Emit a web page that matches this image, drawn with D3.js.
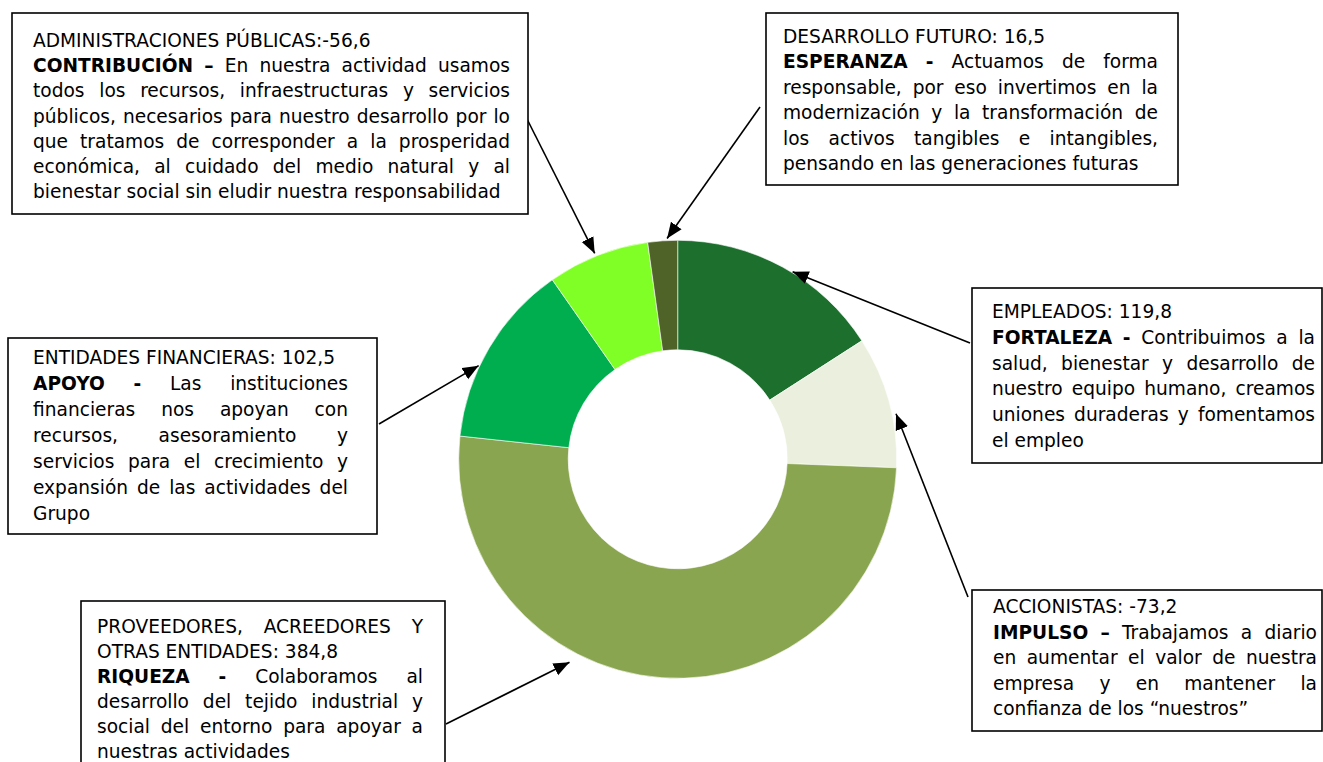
<!DOCTYPE html>
<html>
<head>
<meta charset="utf-8">
<script src="https://cdn.jsdelivr.net/npm/d3@7"></script>
<style>
  html, body { margin: 0; padding: 0; background: #fff; }
  svg { display: block; }
  text { font-family: "DejaVu Sans", Verdana, sans-serif; }
</style>
</head>
<body>
<svg id="chart" width="1323" height="762"></svg>
<script>
// slices, clockwise from 12 o'clock
var names = [
    ["EMPLEADOS"],
    ["ACCIONISTAS"],
    ["PROVEEDORES, ACREEDORES Y", "OTRAS ENTIDADES"],
    ["ENTIDADES FINANCIERAS"],
    ["ADMINISTRACIONES PÚBLICAS"],
    ["DESARROLLO FUTURO"]
];
var separators = [": ", ": ", ": ", ": ", ":", ": "];
var values = [119.8, -73.2, 384.8, 102.5, -56.6, 16.5];
var colors = ["#1d6f2e", "#ebf0de", "#89a54f", "#00ae4f", "#80ff26", "#4f6228"];

// texts of the call-out boxes, already broken in lines; **...** is bold
var bodies = [
    ["**FORTALEZA -** Contribuimos a la",
     "salud, bienestar y desarrollo de",
     "nuestro equipo humano, creamos",
     "uniones duraderas y fomentamos",
     "el empleo"],
    ["**IMPULSO –** Trabajamos a diario",
     "en aumentar el valor de nuestra",
     "empresa y en mantener la",
     "confianza de los “nuestros”"],
    ["**RIQUEZA** **-** Colaboramos al",
     "desarrollo del tejido industrial y",
     "social del entorno para apoyar a",
     "nuestras actividades"],
    ["**APOYO** **-** Las instituciones",
     "financieras nos apoyan con",
     "recursos, asesoramiento y",
     "servicios para el crecimiento y",
     "expansión de las actividades del",
     "Grupo"],
    ["**CONTRIBUCIÓN –** En nuestra actividad usamos",
     "todos los recursos, infraestructuras y servicios",
     "públicos, necesarios para nuestro desarrollo por lo",
     "que tratamos de corresponder a la prosperidad",
     "económica, al cuidado del medio natural y al",
     "bienestar social sin eludir nuestra responsabilidad"],
    ["**ESPERANZA -** Actuamos de forma",
     "responsable, por eso invertimos en la",
     "modernización y la transformación de",
     "los activos tangibles e intangibles,",
     "pensando en las generaciones futuras"]
];

// layout of the boxes (x, y, w, h, text left, text width, first baseline, line step)
var boxes = [
    {x: 972, y: 288, w: 350, h: 175, tx: 992, tw: 323, by: 318, step: 25.8},
    {x: 972, y: 590, w: 350, h: 141, tx: 993, tw: 324, by: 613, step: 25.6},
    {x: 81,  y: 601, w: 364, h: 180, tx: 97,  tw: 326, by: 633, step: 25.0},
    {x: 8,   y: 338, w: 369, h: 196, tx: 33,  tw: 315, by: 364, step: 26.0},
    {x: 12,  y: 13,  w: 516, h: 201, tx: 33,  tw: 477, by: 47,  step: 25.2},
    {x: 766, y: 13,  w: 412, h: 172, tx: 783, tw: 375, by: 43,  step: 25.4}
];
// where each arrow starts, and where on its slice it points
var arrowFrom = [[970, 343], [968, 597], [446, 724], [379, 424], [527, 119], [760, 107]];
var arrowAt = [0.55, 0.6, 0.63, 0.39, 0.48, 0.65];
var arrowGap = [1, 4, 11, 1, 3, 2];

var FONT_SIZE = 18.6;
var CX = 677.7, CY = 459.3, R_OUT = 219, R_IN = 109.5;

var svg = d3.select("#chart");
var locale = d3.formatLocale({decimal: ",", thousands: ".", grouping: [3], currency: ["", "€"], minus: "-"});
var fmt = locale.format(".1f");

var pie = d3.pie().sort(null).value(function(d) { return Math.abs(d); });
var arcs = pie(values);
var arc = d3.arc().innerRadius(R_IN).outerRadius(R_OUT);

// donut
svg.append("g")
    .attr("transform", "translate(" + CX + "," + CY + ")")
    .selectAll("path")
    .data(arcs)
    .enter()
    .append("path")
    .attr("d", arc)
    .attr("fill", function(d, i) { return colors[i]; })
    .attr("stroke", "#fff")
    .attr("stroke-width", 0.6);

// arrow head
svg.append("defs").append("marker")
    .attr("id", "head")
    .attr("markerUnits", "userSpaceOnUse")
    .attr("viewBox", "0 -7 16 14")
    .attr("refX", 16)
    .attr("refY", 0)
    .attr("markerWidth", 16)
    .attr("markerHeight", 14)
    .attr("orient", "auto")
    .append("path")
    .attr("d", "M0,-6.5L16,0L0,6.5Z")
    .attr("fill", "#000");

function tipOf(i) {
    var a = arcs[i];
    var ang = a.startAngle + arrowAt[i] * (a.endAngle - a.startAngle);
    var r = R_OUT + arrowGap[i];
    return [CX + r * Math.sin(ang), CY - r * Math.cos(ang)];
}

svg.append("g").selectAll("line")
    .data(arcs)
    .enter()
    .append("line")
    .attr("x1", function(d, i) { return arrowFrom[i][0]; })
    .attr("y1", function(d, i) { return arrowFrom[i][1]; })
    .attr("x2", function(d, i) { return tipOf(i)[0]; })
    .attr("y2", function(d, i) { return tipOf(i)[1]; })
    .attr("stroke", "#000")
    .attr("stroke-width", 1.6)
    .attr("marker-end", "url(#head)");

// measuring helper
var probe = svg.append("text").attr("font-size", FONT_SIZE).attr("x", -1000).attr("y", -1000);
function measure(str, bold) {
    probe.attr("font-weight", bold ? "bold" : "normal").text(str);
    return probe.node().getComputedTextLength();
}
var SPACE = measure("a a", false) - measure("aa", false);

// "**bold** normal" -> words with a bold flag
function tokens(line) {
    var out = [];
    line.split("**").forEach(function(seg, k) {
        seg.split(" ").forEach(function(w) {
            if (w !== "") out.push({t: w, b: k % 2 == 1, w: measure(w, k % 2 == 1)});
        });
    });
    return out;
}

function drawLine(g, line, x, y, width, justify) {
    var words = tokens(line);
    var total = d3.sum(words, function(d) { return d.w; });
    var gap = (justify && words.length > 1) ? (width - total) / (words.length - 1) : SPACE;
    gap = Math.max(gap, SPACE * 0.5);
    var cx = x;
    words.forEach(function(d) {
        d.x = cx;
        cx += d.w + gap;
    });
    g.selectAll(null)
        .data(words)
        .enter()
        .append("text")
        .attr("x", function(d) { return d.x; })
        .attr("y", y)
        .attr("font-size", FONT_SIZE)
        .attr("font-weight", function(d) { return d.b ? "bold" : "normal"; })
        .attr("fill", "#000")
        .text(function(d) { return d.t; });
}

boxes.forEach(function(b, i) {
    var g = svg.append("g");
    g.append("rect")
        .attr("x", b.x).attr("y", b.y)
        .attr("width", b.w).attr("height", b.h)
        .attr("fill", "#fff")
        .attr("stroke", "#000")
        .attr("stroke-width", 1.6);

    var head = names[i].slice();
    head[head.length - 1] += separators[i] + fmt(values[i]);
    var n = 0;
    head.forEach(function(l, k) {
        drawLine(g, l, b.tx, b.by + n * b.step, b.tw, k < head.length - 1);
        n++;
    });
    bodies[i].forEach(function(l, k) {
        drawLine(g, l, b.tx, b.by + n * b.step, b.tw, k < bodies[i].length - 1);
        n++;
    });
});
probe.remove();
</script>
</body>
</html>
